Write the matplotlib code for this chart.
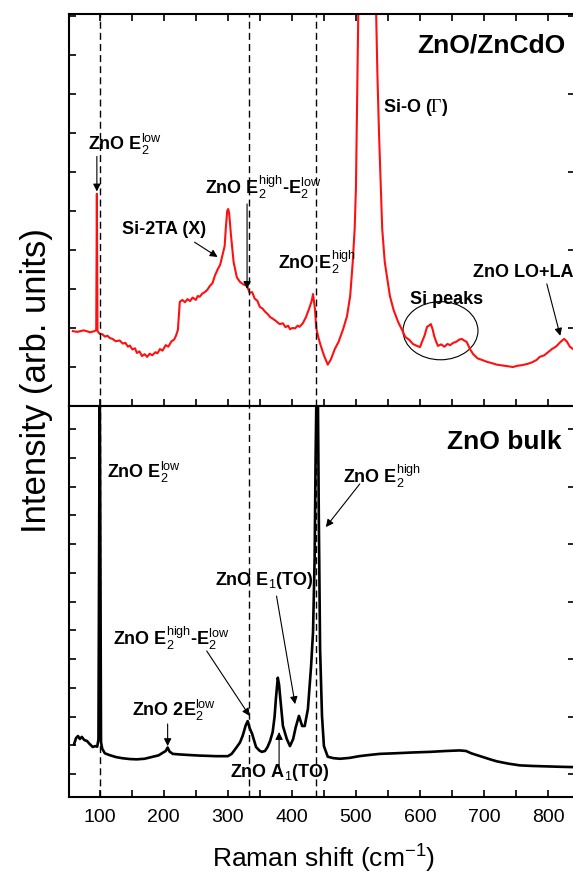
import matplotlib
matplotlib.use("Agg")
import matplotlib.pyplot as plt
from matplotlib.patches import Ellipse
from matplotlib.ticker import MultipleLocator

plt.rcParams['font.family'] = ['Liberation Sans', 'DejaVu Sans']
plt.rcParams['mathtext.fontset'] = 'custom'
plt.rcParams['mathtext.rm'] = 'Liberation Sans'
plt.rcParams['mathtext.bf'] = 'Liberation Sans:bold'
plt.rcParams['mathtext.it'] = 'Liberation Sans:italic'
plt.rcParams['mathtext.sf'] = 'Liberation Serif'

# ZnO/ZnCdO film on Si (red spectrum)
film_shift = [58, 65, 75, 85, 92, 94.5, 95.5, 96.5, 100, 104, 108, 112, 116, 120, 125,
              131, 136, 140, 144, 147, 151, 155, 158, 162, 166, 170, 174, 178, 182,
              187, 190, 194, 198, 203, 207, 212, 216, 219, 222, 225, 229, 233, 237,
              241, 245, 250, 253, 256, 260, 264, 268, 272, 276, 280, 284, 288, 292,
              295, 297, 299, 300.5, 302, 305, 309, 314, 319, 324, 330, 334, 338,
              342, 346, 350, 354, 358, 362, 366, 370, 375, 381, 386, 390, 394, 397,
              401, 405, 409, 412, 417, 422, 427, 431, 433, 436, 438, 441, 444, 450,
              456, 461, 467, 473, 480, 486, 491, 495, 498, 500, 504, 511, 518, 525,
              531, 533.5, 536, 541, 545, 553, 559, 566, 572, 577, 583, 589, 594, 600,
              603, 607, 611, 614, 617, 620, 622, 625, 628, 633, 638, 643, 647, 652,
              656, 661, 665, 669, 673, 678, 683, 690, 697, 705, 712, 720, 728, 737,
              745, 752, 760, 768, 775, 782, 787, 794, 800, 806, 811, 814, 818, 822,
              825, 829, 834, 839]
film_intensity = [1.92, 1.90, 1.94, 1.89, 1.92, 1.95, 5.44, 1.92, 1.85, 1.84, 1.78, 1.80,
                  1.74, 1.72, 1.66, 1.68, 1.60, 1.62, 1.52, 1.55, 1.45, 1.48, 1.36, 1.40,
                  1.28, 1.33, 1.26, 1.34, 1.30, 1.38, 1.35, 1.46, 1.42, 1.56, 1.52, 1.66,
                  1.70, 1.80, 1.95, 2.67, 2.72, 2.66, 2.74, 2.69, 2.78, 2.72, 2.82, 2.80,
                  2.88, 2.92, 2.98, 3.08, 3.15, 3.35, 3.50, 3.62, 3.90, 4.10, 4.60, 5.00,
                  5.05, 4.95, 4.36, 3.69, 3.30, 3.18, 3.12, 3.08, 2.90, 2.92, 2.75, 2.70,
                  2.54, 2.50, 2.42, 2.36, 2.28, 2.24, 2.18, 2.10, 2.12, 2.02, 2.06, 1.97,
                  2.00, 1.99, 2.06, 2.03, 2.12, 2.28, 2.50, 2.70, 2.87, 2.49, 2.00, 1.78,
                  1.60, 1.30, 1.06, 1.20, 1.46, 1.65, 1.97, 2.30, 2.82, 3.69, 4.54, 5.60,
                  10.5, 15.0, 18.0, 15.0, 10.5, 8.5, 7.0, 4.54, 3.69, 2.82, 2.45, 2.15,
                  1.95, 1.77, 1.70, 1.59, 1.55, 1.51, 1.64, 1.80, 2.03, 2.06, 2.10, 1.95,
                  1.80, 1.66, 1.54, 1.58, 1.52, 1.59, 1.56, 1.62, 1.64, 1.70, 1.72, 1.68,
                  1.64, 1.46, 1.33, 1.22, 1.18, 1.13, 1.10, 1.06, 1.04, 1.02, 1.00, 1.03,
                  1.05, 1.08, 1.12, 1.18, 1.26, 1.30, 1.38, 1.46, 1.51, 1.55, 1.62, 1.68,
                  1.72, 1.66, 1.52, 1.46]

# ZnO bulk crystal (black spectrum)
bulk_shift = [60, 63, 66, 69, 72, 76, 80, 84, 89, 93, 96, 98, 100, 102, 104, 108, 115,
              125, 135, 147, 158, 170, 181, 192, 197, 203, 206, 209, 214, 225, 240,
              256, 270, 281, 292, 300, 306, 314, 319, 323, 328, 331, 334, 338, 344,
              349, 353, 358, 362, 366, 370, 373, 375, 378, 380, 382, 386, 392, 397,
              402, 406, 411, 416, 420, 425, 430, 433, 435.5, 437, 438.5, 440.5, 442,
              444, 447, 450, 456, 465, 475, 490, 505, 520, 537, 560, 590, 616, 640,
              662, 672, 680, 694, 708, 720, 738, 756, 775, 790, 805, 820, 839]
bulk_intensity = [1.04, 1.25, 1.32, 1.22, 1.29, 1.18, 1.15, 1.05, 0.94, 0.97, 0.95, 1.20,
                  14.0, 1.10, 0.87, 0.72, 0.66, 0.59, 0.55, 0.52, 0.51, 0.53, 0.59, 0.65,
                  0.72, 0.80, 0.92, 0.78, 0.70, 0.68, 0.66, 0.64, 0.63, 0.62, 0.62, 0.62,
                  0.70, 0.94, 1.10, 1.32, 1.70, 1.84, 1.60, 1.39, 0.94, 0.82, 0.77, 0.80,
                  0.94, 1.15, 1.46, 2.00, 2.61, 3.35, 3.10, 2.61, 1.67, 1.22, 0.97, 1.22,
                  1.63, 2.02, 1.67, 1.67, 2.26, 3.76, 4.94, 7.50, 11.0, 13.5, 13.5, 9.0,
                  4.35, 2.02, 0.97, 0.60, 0.55, 0.53, 0.56, 0.62, 0.66, 0.70, 0.72, 0.75,
                  0.77, 0.80, 0.82, 0.80, 0.72, 0.62, 0.52, 0.44, 0.36, 0.30, 0.28, 0.27,
                  0.26, 0.25, 0.24]

# phonon positions marked across both panels
mode_lines = [100, 333, 437.5]

fig = plt.figure(figsize=(5.73, 8.79), dpi=100)
top = fig.add_axes([69 / 573, 1 - 407 / 879, 506 / 573, 392 / 879])
bot = fig.add_axes([69 / 573, 1 - 798 / 879, 506 / 573, 391 / 879])

top.plot(film_shift, film_intensity, color='#ff1010', lw=1.5)
bot.plot(bulk_shift, bulk_intensity, color='black', lw=1.9)

for ax in (top, bot):
    for xm in mode_lines:
        ax.axvline(xm, color='black', lw=1.0, dashes=(5, 3), zorder=3)
    ax.set_xlim(52, 842)
    ax.xaxis.set_major_locator(MultipleLocator(100))
    ax.xaxis.set_minor_locator(MultipleLocator(50))
    ax.yaxis.set_major_locator(MultipleLocator(2))
    ax.yaxis.set_minor_locator(MultipleLocator(1))
    ax.tick_params(which='both', direction='in', length=5, width=1.2,
                   left=True, right=True, labelleft=False)
    ax.tick_params(which='minor', right=False)
    for s in ax.spines.values():
        s.set_linewidth(1.5)

top.set_ylim(0, 10.05)
bot.set_ylim(-0.8, 12.8)
top.tick_params(which='both', top=True, bottom=True, labelbottom=False)
bot.tick_params(which='both', top=False, bottom=True)
bot.tick_params(axis='x', labelsize=14, pad=8)

fig.text(37 / 573, 1 - 381 / 879, 'Intensity (arb. units)', rotation=90,
         fontsize=25, ha='center', va='center')
fig.text(324 / 573, 1 - 868 / 879, r'Raman shift (cm$^{-1}$)', fontsize=19,
         ha='center', va='baseline')

lab = dict(fontsize=13, fontweight='bold', ha='left', va='center')
arr = dict(arrowstyle='-|>', color='black', lw=0.8, mutation_scale=11,
           shrinkA=0, shrinkB=0)

# upper panel labels
top.text(595, 9.26, 'ZnO/ZnCdO', fontsize=19, fontweight='bold', ha='left', va='center')
top.text(81, 6.72, r'ZnO E$_2^{\rm low}$', **lab)
top.annotate('', xy=(95.5, 5.5), xytext=(95.5, 6.4), arrowprops=arr)
top.text(134, 4.54, 'Si-2TA (X)', **lab)
top.annotate('', xy=(284, 3.82), xytext=(248, 4.2), arrowprops=arr)
top.text(264, 5.62, r'ZnO E$_2^{\rm high}$-E$_2^{\rm low}$', **lab)
top.annotate('', xy=(330, 3.0), xytext=(330, 5.18), arrowprops=arr)
top.text(378, 3.72, r'ZnO E$_2^{\rm high}$', **lab)
top.text(542, 7.69, r'Si-O ($\mathsf{\Gamma}$)', **lab)
top.text(584, 2.76, 'Si peaks', **lab)
top.add_patch(Ellipse((632, 1.93), 117, 1.49, fill=False, ec='black', lw=0.8))
top.text(683, 3.46, 'ZnO LO+LA', **lab)
top.annotate('', xy=(819, 1.8), xytext=(798, 3.13), arrowprops=arr)

# lower panel labels
bot.text(642, 11.57, 'ZnO bulk', fontsize=19, fontweight='bold', ha='left', va='center')
bot.text(111, 10.54, r'ZnO E$_2^{\rm low}$', **lab)
bot.text(480, 10.38, r'ZnO E$_2^{\rm high}$', **lab)
bot.annotate('', xy=(453, 8.59), xytext=(506, 10.09), arrowprops=arr)
bot.text(280, 6.76, r'ZnO E$_1$(TO)', **lab)
bot.annotate('', xy=(405, 2.43), xytext=(376, 6.19), arrowprops=arr)
bot.text(121, 4.75, r'ZnO E$_2^{\rm high}$-E$_2^{\rm low}$', **lab)
bot.annotate('', xy=(334, 2.02), xytext=(267, 4.28), arrowprops=arr)
bot.text(150, 2.24, r'ZnO 2E$_2^{\rm low}$', **lab)
bot.annotate('', xy=(206, 0.97), xytext=(206, 1.74), arrowprops=arr)
bot.text(303, 0.07, r'ZnO A$_1$(TO)', **lab)
bot.annotate('', xy=(380, 1.46), xytext=(380, 0.28), arrowprops=arr)

fig.savefig('out.png', dpi=100)
